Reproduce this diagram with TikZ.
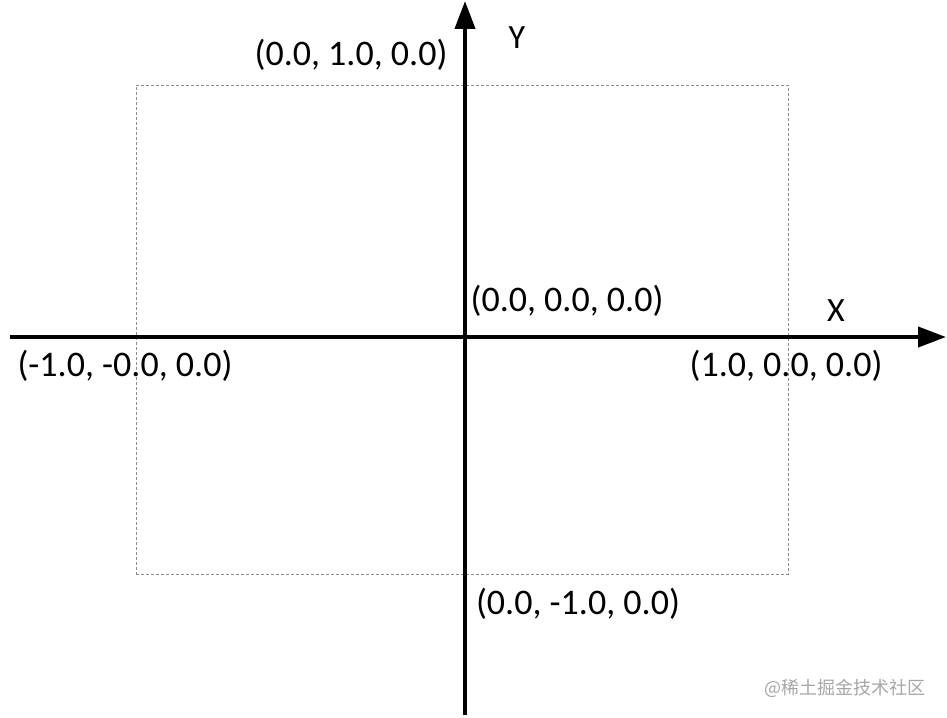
\documentclass[tikz,border=0pt]{standalone}
\usepackage{fontspec}
\setmainfont{Carlito}
\newfontfamily\cjkfont{Noto Sans CJK SC}
\usetikzlibrary{arrows.meta}
\tikzset{
  axis/.style={line width=4pt, -{Triangle[length=28pt,width=20pt]}},
  frame/.style={draw=black!45, line width=0.8pt, dash pattern=on 3pt off 2pt},
  lbl/.style={font=\fontsize{36}{42}\selectfont, inner sep=0pt, text=black},
  axlbl/.style={font=\fontsize{34}{40}\selectfont, inner sep=0pt, text=black},
  wm/.style={font=\cjkfont\fontsize{18}{22}\selectfont, inner sep=0pt, text=black!35}
}
\begin{document}
\begin{tikzpicture}[x=1pt,y=-1pt]
\useasboundingbox (0,0) rectangle (947,717);
\node[frame, minimum width=652pt, minimum height=489pt, inner sep=0pt, anchor=north west] (box) at (136,85) {};
\coordinate (xl) at (10,337);
\coordinate (xr) at (946,337);
\coordinate (yb) at (465,715);
\coordinate (yt) at (465,1);
\draw[axis] (xl) -- (xr);
\draw[axis] (yb) -- (yt);
\node[lbl] (ptop) at (351,55) {(0.0, 1.0, 0.0)};
\node[lbl] (pleft) at (125,366) {(-1.0, -0.0, 0.0)};
\node[lbl] (porig) at (567,301) {(0.0, 0.0, 0.0)};
\node[lbl] (pright) at (786,366) {(1.0, 0.0, 0.0)};
\node[lbl] (pbot) at (578,604) {(0.0, -1.0, 0.0)};
\node[axlbl] (ylab) at (517,38) {Y};
\node[axlbl] (xlab) at (836,311) {X};
\node[wm] (wmark) at (845,688) {@稀土掘金技术社区};
\end{tikzpicture}
\end{document}
